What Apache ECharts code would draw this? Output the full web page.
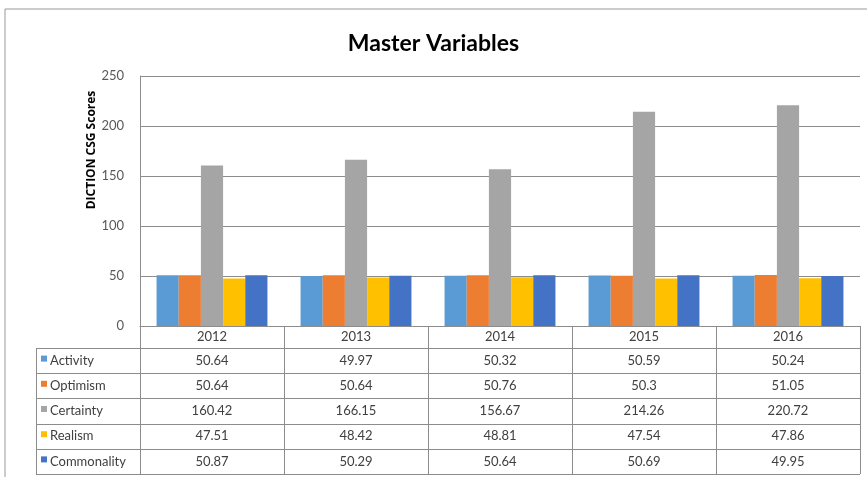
<!DOCTYPE html>
<html><head><meta charset="utf-8">
<script src="https://cdn.jsdelivr.net/npm/echarts@6/dist/echarts.min.js"></script>
<style>html,body{margin:0;padding:0;background:#fff}#c{width:867px;height:477px}</style>
</head><body><div id="c"></div>
<script>
const years = ['2012', '2013', '2014', '2015', '2016'];
const seriesNames = ['Activity', 'Optimism', 'Certainty', 'Realism', 'Commonality'];
const activity = [50.64, 49.97, 50.32, 50.59, 50.24];
const optimism = [50.64, 50.64, 50.76, 50.3, 51.05];
const certainty = [160.42, 166.15, 156.67, 214.26, 220.72];
const realism = [47.51, 48.42, 48.81, 47.54, 47.86];
const commonality = [50.87, 50.29, 50.64, 50.69, 49.95];
const yMin = 0, yMax = 250, yStep = 50;
const titleText = 'Master Variables';
const yTitle = 'DICTION CSG Scores';

const values = [activity, optimism, certainty, realism, commonality];
const colors = ['#5B9BD5', '#ED7D31', '#A5A5A5', '#FFC000', '#4472C4'];
const FONT = 'Lato';
const LINE = '#8c8c8c';
const TXT = '#404040';
const FS = 13;

const chart = echarts.init(document.getElementById('c'), null, {renderer: 'canvas'});
const option = {
  animation: false,
  backgroundColor: '#fff',
  title: {
    text: titleText, left: 'center', top: 27,
    textStyle: {fontFamily: FONT, fontSize: 23, fontWeight: 'bold', color: '#000'}
  },
  grid: {left: 140, right: 7, top: 76, bottom: 151},
  xAxis: {
    type: 'category', data: years,
    axisLine: {show: true, lineStyle: {color: LINE, width: 1}},
    axisTick: {show: true, length: 148, lineStyle: {color: LINE, width: 1}},
    axisLabel: {margin: 4, fontFamily: FONT, fontSize: FS, color: TXT}
  },
  yAxis: {
    type: 'value', min: yMin, max: yMax, interval: yStep,
    axisLine: {show: true, lineStyle: {color: LINE, width: 1}},
    axisTick: {show: false},
    axisLabel: {margin: 16, fontFamily: FONT, fontSize: FS, color: '#595959'},
    splitLine: {lineStyle: {color: LINE, width: 1}}
  },
  series: seriesNames.map((n, i) => ({
    name: n, type: 'bar', data: values[i],
    barGap: '0%', barCategoryGap: '23%',
    itemStyle: {color: colors[i]}
  }))
};
chart.setOption(option);

// build table + frame graphics from data & axes
const y0 = chart.convertToPixel({yAxisIndex: 0}, 0);
const xRight = 860, labelLeft = 36;
const headerH = 22, rowH = 25.2;
const g = [];
const line = (x1, y1, x2, y2, c) => g.push({type: 'line', silent: true,
  shape: {x1, y1, x2, y2}, style: {stroke: c || LINE, lineWidth: 1}});
// outer frame
line(5, 9, 867, 9, '#999');
line(5, 9, 5, 477, '#999');
const tTop = Math.round(y0) + headerH;
for (let r = 0; r <= seriesNames.length; r++) {
  const yy = Math.round(tTop + r * rowH) + 0.5;
  line(labelLeft, yy, xRight, yy);
}
line(labelLeft + 0.5, tTop + 0.5, labelLeft + 0.5, Math.round(tTop + seriesNames.length * rowH) + 0.5);
seriesNames.forEach((n, r) => {
  const cy = tTop + r * rowH + rowH / 2;
  g.push({type: 'rect', silent: true, shape: {x: 41, y: cy - 5, width: 6, height: 6}, style: {fill: colors[r]}});
  g.push({type: 'text', silent: true, x: 50, y: cy, style: {text: n, fontFamily: FONT, fontSize: FS, fill: TXT, verticalAlign: 'middle', align: 'left'}});
  years.forEach((yr, c) => {
    const cx = chart.convertToPixel({xAxisIndex: 0}, yr);
    g.push({type: 'text', silent: true, x: cx, y: cy, style: {text: String(values[r][c]), fontFamily: FONT, fontSize: FS, fill: TXT, align: 'center', verticalAlign: 'middle'}});
  });
});
// y-axis title
g.push({type: 'text', silent: true, x: 92, y: 150, rotation: Math.PI / 2,
  style: {text: yTitle, fontFamily: 'Open Sans', fontSize: 12, fontWeight: 'bold', fill: '#000', align: 'center', verticalAlign: 'middle'}});
chart.setOption({graphic: g});
</script>
</body></html>
